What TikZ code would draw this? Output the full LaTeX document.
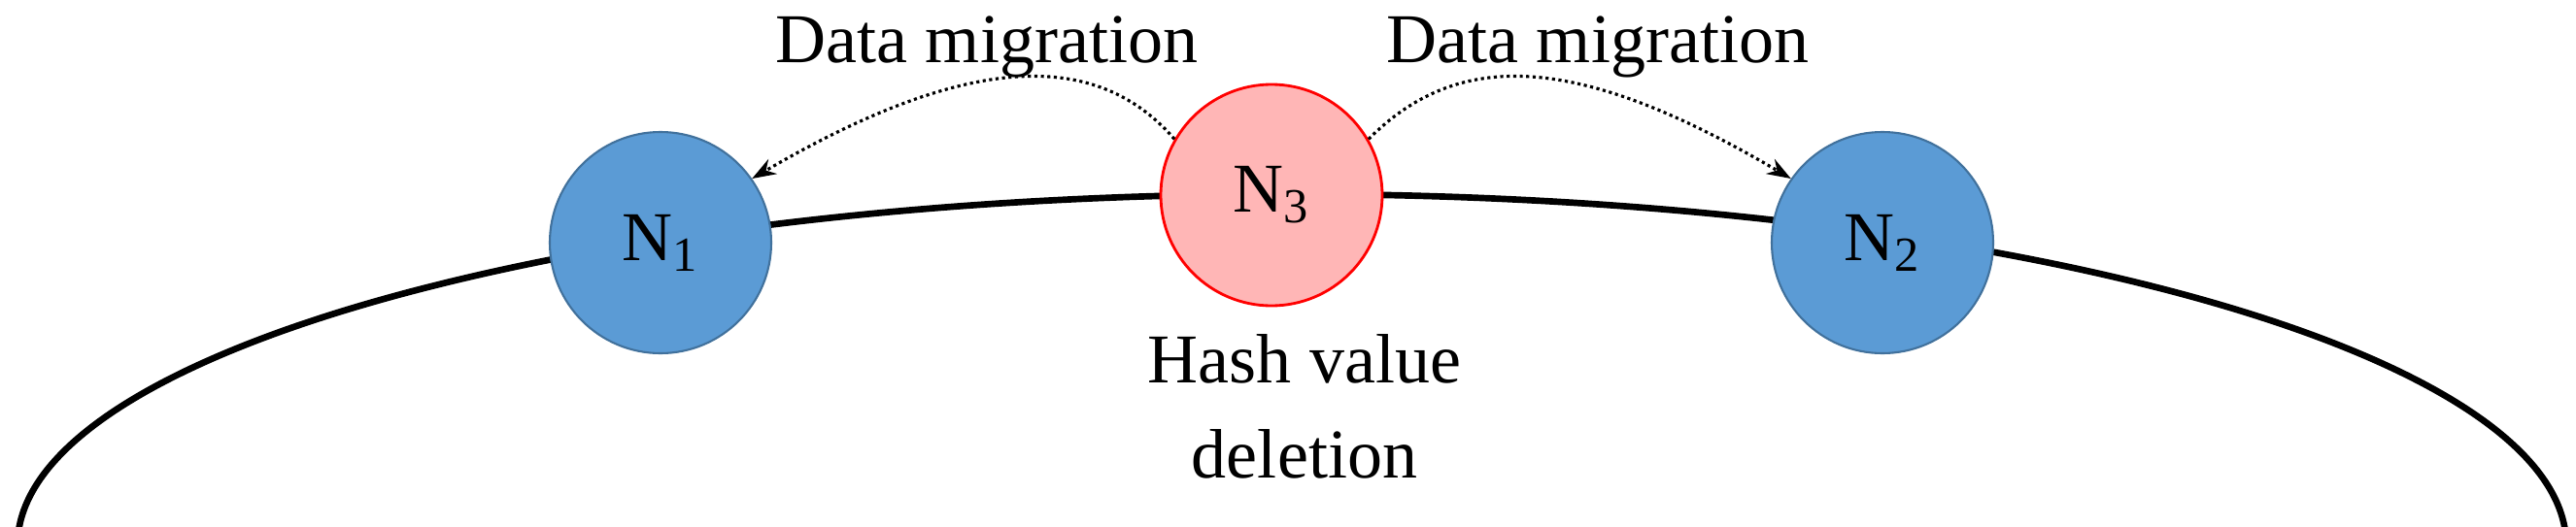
\documentclass[tikz,border=0pt]{standalone}
\usepackage{fontspec}
\setmainfont{Liberation Serif}
\usetikzlibrary{positioning,arrows.meta}
\definecolor{nodeblue}{HTML}{5B9BD5}
\definecolor{nodeedge}{HTML}{41719C}
\definecolor{delfill}{HTML}{FFB6B6}
\begin{document}
\begin{tikzpicture}[x=1cm,y=1cm,
  font=\fontsize{20.5}{24}\selectfont,
  server/.style={circle,minimum size=2.28cm,inner sep=0pt,fill=nodeblue,draw=nodeedge,line width=0.6pt},
  removed/.style={circle,minimum size=2.28cm,inner sep=0pt,fill=delfill,draw=red,line width=0.8pt},
  migrate/.style={densely dotted,line width=0.9pt,-{Stealth[length=7pt,width=5pt]}}]
  \useasboundingbox (0,0) rectangle (26.52,5.42);
  \begin{scope}
    \clip (0,0) rectangle (26.52,5.42);
    \draw[line width=1.9pt] (13.30,-0.20) ellipse [x radius=13.12, y radius=3.62];
  \end{scope}
  \node[server]  (n_1) at (6.80,2.92)  {N\textsubscript{1}};
  \node[removed] (n_3) at (13.09,3.41) {N\textsubscript{3}};
  \node[server]  (n_2) at (19.38,2.92) {N\textsubscript{2}};
  \node (mig_l) at (10.16,4.94) {Data migration};
  \node (mig_r) at (16.45,4.94) {Data migration};
  \node[align=center,font=\fontsize{20.5}{28}\selectfont] (del) at (13.43,1.23) {Hash value\\deletion};
  \draw[migrate] (n_3.150) .. controls (11.3,4.9) and (10.0,4.9) .. (n_1.35);
  \draw[migrate] (n_3.30) .. controls (15.0,4.9) and (16.2,4.9) .. (n_2.145);
\end{tikzpicture}
\end{document}
